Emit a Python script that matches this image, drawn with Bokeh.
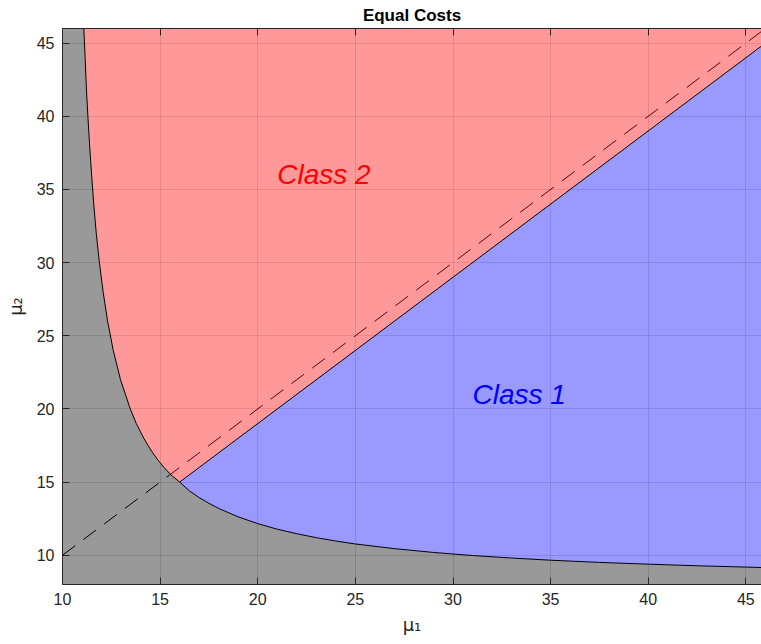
from bokeh.plotting import figure
from bokeh.models import LinearAxis, Range1d, FixedTicker, Label
from bokeh.embed import file_html
from bokeh.resources import INLINE

# ---- data ----
# upper branch of the grey/red boundary (from the top down to the corner point)
upper_y = [46, 44, 42, 40, 38, 36, 34, 32, 30, 28, 26, 24, 22, 20, 19, 18, 17.5, 17, 16.5, 16, 15.5, 15]
upper_x = [11.09, 11.16, 11.22, 11.30, 11.39, 11.49, 11.60, 11.73, 11.89, 12.08, 12.31, 12.60, 12.97,
           13.47, 13.78, 14.16, 14.38, 14.62, 14.89, 15.20, 15.55, 16.0]
# lower branch of the grey/blue boundary (from the corner point to the right)
lower_x = [16, 16.5, 17, 17.5, 18, 19, 20, 21, 22, 23, 24, 25, 27, 29, 31, 33, 35, 37.5, 40, 42.5, 45, 47]
lower_y = [15.0, 14.40, 13.94, 13.55, 13.20, 12.62, 12.16, 11.78, 11.47, 11.20, 10.97, 10.77, 10.45,
           10.19, 9.98, 9.81, 9.66, 9.51, 9.39, 9.28, 9.19, 9.12]
# red/blue boundary
line_x = [16.0, 47.0]
line_y = [15.0, 46.0]
# dashed diagonal
diag_x = [10.0, 47.0]
diag_y = [10.0, 47.0]
x_ticks = [10, 15, 20, 25, 30, 35, 40, 45]
y_ticks = [10, 15, 20, 25, 30, 35, 40, 45]
x_lim = (10.0, 45.8)
y_lim = (8.0, 46.0)
labels = ["Class 1", "Class 2"]
label_x = [31.0, 21.0]
label_y = [21.0, 36.0]
label_colors = ["#0000ff", "#ff0000"]

FONT = "Liberation Sans"
TXT = "#262626"

p = figure(width=761, height=644, output_backend="svg", toolbar_location=None,
           x_range=Range1d(*x_lim), y_range=Range1d(*y_lim),
           min_border_left=62, min_border_right=0, min_border_top=28, min_border_bottom=60,
           x_axis_location=None, y_axis_location=None)
p.outline_line_color = None
p.background_fill_color = "white"
p.border_fill_color = "white"

p.title.text = "Equal Costs"
p.title.align = "center"
p.title.text_font = FONT
p.title.text_font_size = "17px"
p.title.text_font_style = "bold"
p.title.text_color = "black"
p.title.offset = 0
p.title.standoff = 7

def style_axis(ax, ticks):
    ax.ticker = FixedTicker(ticks=ticks)
    ax.axis_line_color = TXT
    ax.axis_line_width = 1
    ax.major_tick_in = 7
    ax.major_tick_out = 0
    ax.major_tick_line_color = TXT
    ax.minor_tick_line_color = None
    ax.major_label_text_font = FONT
    ax.major_label_text_color = TXT
    ax.major_label_text_font_size = "16px"
    ax.major_label_standoff = 8
    ax.axis_label_text_font = "DejaVu Sans"
    ax.axis_label_text_color = TXT
    ax.axis_label_text_font_style = "normal"
    ax.axis_label_text_font_size = "18px"

xa = LinearAxis(axis_label="μ₁")
style_axis(xa, x_ticks)
xa.axis_label_standoff = 6
p.add_layout(xa, "below")

ya = LinearAxis(axis_label="μ₂")
style_axis(ya, y_ticks)
ya.axis_label_standoff = 8
p.add_layout(ya, "left")

ta = LinearAxis()
style_axis(ta, x_ticks)
ta.major_label_overrides = {t: "" for t in x_ticks}
ta.major_label_standoff = 0
p.add_layout(ta, "above")

p.xgrid.ticker = FixedTicker(ticks=x_ticks)
p.ygrid.ticker = FixedTicker(ticks=y_ticks)
for g in (p.xgrid, p.ygrid):
    g.grid_line_color = "#262626"
    g.grid_line_alpha = 0.15

# dashed equal-cost line (under the translucent regions)
p.line(diag_x, diag_y, line_color="black", line_width=1, line_dash="16 10")

# regions
gray_x = [x_lim[0], x_lim[0]] + upper_x + lower_x[1:] + [lower_x[-1]]
gray_y = [y_lim[0], upper_y[0]] + upper_y + lower_y[1:] + [y_lim[0]]
p.patch(gray_x, gray_y, fill_color="black", fill_alpha=0.4, line_color=None)

red_x = upper_x + [line_x[1]]
red_y = upper_y + [line_y[1]]
p.patch(red_x, red_y, fill_color="red", fill_alpha=0.4, line_color=None)

blue_x = lower_x + [line_x[1]]
blue_y = lower_y + [line_y[1]]
p.patch(blue_x, blue_y, fill_color="blue", fill_alpha=0.4, line_color=None)

# boundaries
p.line(upper_x + lower_x[1:], upper_y + lower_y[1:], line_color="black", line_width=1)
p.line(line_x, line_y, line_color="black", line_width=1)

for t, lx, ly, c in zip(labels, label_x, label_y, label_colors):
    p.add_layout(Label(x=lx, y=ly, text=t, text_color=c, text_font=FONT,
                       text_font_size="28px", text_font_style="italic",
                       text_baseline="middle", text_align="left"))

open("out.html", "w").write(file_html(p, INLINE))
